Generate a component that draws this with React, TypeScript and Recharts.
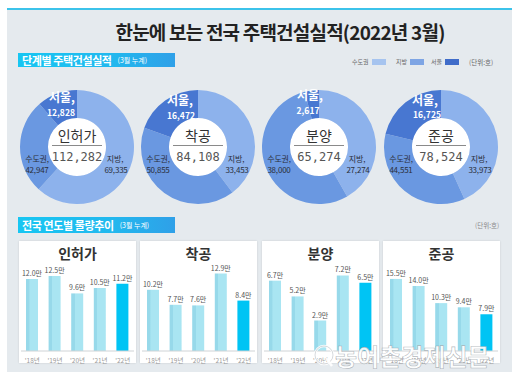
import React from "react";
import { PieChart, Pie, Cell, BarChart, Bar, XAxis, YAxis, LabelList } from "recharts";

const STAGES = ["인허가", "착공", "분양", "준공"];
const TOTALS = [112282, 84108, 65274, 78524];
const METRO = [42947, 50855, 38000, 44551];
const LOCAL = [69335, 33453, 27274, 33973];
const SEOUL = [12828, 16472, 2617, 16725];

const YEARS = ["'18년", "'19년", "'20년", "'21년", "'22년"];
const PERMIT = [12.0, 12.5, 9.6, 10.5, 11.2];
const START = [10.2, 7.7, 7.6, 12.9, 8.4];
const SALE = [6.7, 5.2, 2.9, 7.2, 6.5];
const DONE = [15.5, 14.0, 10.3, 9.4, 7.9];
const TRENDS = [PERMIT, START, SALE, DONE];

const LEGEND_NAMES = ["수도권", "지방", "서울"];
const LEGEND_COLORS = ["#a6c4ef", "#7ea5e4", "#3f6cc9"];

const FONT = "'Noto Sans CJK KR', 'Noto Sans', sans-serif";
const RING = ["#8db2ec", "#6a98e1", "#4877d1"];
const PIE_X = [77, 198, 319, 441];
const PIE_Y = 147;
const SEOUL_POS = [
  [-15, -50, -16, -35],
  [-18, -47, -17, -32],
  [-9, -52, -11, -37],
  [-16, -47, -14, -33],
];
const BOX_X = [19, 140, 262, 383];
const BAR_MAX = [15.5, 15.5, 8.86, 20];
const LEGEND_X = [352, 396, 431];

const fmt = (n: number) => n.toLocaleString("en-US");

function Txt({ x, y, children, style }: { x: number; y: number; children: React.ReactNode; style?: React.CSSProperties }) {
  return (
    <div
      style={{
        position: "absolute",
        left: x,
        top: y,
        transform: "translate(-50%, -50%)",
        whiteSpace: "nowrap",
        lineHeight: 1,
        ...style,
      }}
    >
      {children}
    </div>
  );
}

function Donut({ i }: { i: number }) {
  const cx = PIE_X[i];
  const ring = [
    { name: "지방", v: LOCAL[i] },
    { name: "수도권", v: METRO[i] - SEOUL[i] },
    { name: "서울", v: SEOUL[i] },
  ];
  const sp = SEOUL_POS[i];
  const small: React.CSSProperties = { fontSize: 8, color: "#2a2f3a", letterSpacing: -0.2 };
  return (
    <>
      <div style={{ position: "absolute", left: cx - 65, top: PIE_Y - 65 }}>
        <PieChart width={130} height={130}>
          <Pie data={[{ v: 1 }]} dataKey="v" cx="50%" cy="50%" outerRadius={29} fill="#ffffff" stroke="none" isAnimationActive={false} />
          <Pie
            data={ring}
            dataKey="v"
            cx="50%"
            cy="50%"
            innerRadius={29}
            outerRadius={57}
            startAngle={90}
            endAngle={-270}
            stroke="none"
            isAnimationActive={false}
          >
            {ring.map((d, k) => (
              <Cell key={d.name} fill={RING[k]} />
            ))}
          </Pie>
        </PieChart>
      </div>
      <Txt x={cx} y={PIE_Y - 12} style={{ fontSize: 14, color: "#333" }}>{STAGES[i]}</Txt>
      <div style={{ position: "absolute", left: cx - 25, top: PIE_Y - 2, width: 50, height: 1, background: "#8a8a8a" }} />
      <Txt x={cx} y={PIE_Y + 10} style={{ fontSize: 12, color: "#555", fontFamily: "'DejaVu Sans Mono', monospace" }}>
        {fmt(TOTALS[i])}
      </Txt>
      <Txt x={cx + sp[0]} y={PIE_Y + sp[1]} style={{ fontSize: 12, color: "#fff", fontWeight: 700 }}>서울,</Txt>
      <Txt x={cx + sp[2]} y={PIE_Y + sp[3]} style={{ fontSize: 8.5, color: "#fff", fontWeight: 700 }}>{fmt(SEOUL[i])}</Txt>
      <Txt x={cx - 40} y={PIE_Y + 12} style={small}>수도권,</Txt>
      <Txt x={cx - 40} y={PIE_Y + 23} style={small}>{fmt(METRO[i])}</Txt>
      <Txt x={cx + 38} y={PIE_Y + 12} style={small}>지방,</Txt>
      <Txt x={cx + 39} y={PIE_Y + 23} style={small}>{fmt(LOCAL[i])}</Txt>
    </>
  );
}

function TrendBox({ i }: { i: number }) {
  const data = YEARS.map((y, k) => ({ year: y, v: TRENDS[i][k] }));
  const gid = `barFill${i}`;
  return (
    <div
      style={{
        position: "absolute",
        left: BOX_X[i],
        top: 241,
        width: 117,
        height: 122,
        background: "#fff",
        boxShadow: "0 0 2px rgba(0,0,0,0.12)",
      }}
    >
      <Txt x={58.5} y={12} style={{ fontSize: 14, fontWeight: 700, color: "#333" }}>{STAGES[i]}</Txt>
      <div style={{ position: "absolute", left: 0, top: 0 }}>
        <BarChart width={117} height={128} data={data} margin={{ top: 17, right: 2, left: 2, bottom: 0 }}>
          <defs>
            <linearGradient id={gid} x1="0" y1="0" x2="1" y2="0">
              <stop offset="0%" stopColor="#97d9ea" />
              <stop offset="28%" stopColor="#97d9ea" />
              <stop offset="30%" stopColor="#a9e5f2" />
              <stop offset="100%" stopColor="#a9e5f2" />
            </linearGradient>
          </defs>
          <XAxis
            dataKey="year"
            interval={0}
            height={18}
            tickLine={false}
            axisLine={{ stroke: "#cfd3d6" }}
            tick={{ fontSize: 6.5, fill: "#9a9a9a", fontFamily: FONT }}
            tickMargin={1}
          />
          <YAxis hide domain={[0, BAR_MAX[i]]} />
          <Bar dataKey="v" barSize={12} isAnimationActive={false}>
            {data.map((d, k) => (
              <Cell key={d.year} fill={k === data.length - 1 ? "#00c4f4" : `url(#${gid})`} />
            ))}
            <LabelList
              dataKey="v"
              position="top"
              offset={3}
              formatter={(v: number) => `${v.toFixed(1)}만`}
              style={{ fontSize: 7, fill: "#555", fontFamily: FONT }}
            />
          </Bar>
        </BarChart>
      </div>
    </div>
  );
}

function SectionTag({ top, height, title }: { top: number; height: number; title: string }) {
  return (
    <div
      style={{
        position: "absolute",
        left: 18,
        top,
        width: 157,
        height,
        background: "linear-gradient(90deg, #17c6f2 0%, #22b8ee 60%, #2fa0e8 100%)",
        display: "flex",
        alignItems: "center",
        paddingLeft: 4,
        boxSizing: "border-box",
        color: "#fff",
        whiteSpace: "nowrap",
      }}
    >
      <span style={{ fontSize: 11, fontWeight: 700, letterSpacing: -0.4 }}>{title}</span>
      <span style={{ fontSize: 7, marginLeft: 6 }}>(3월 누계)</span>
    </div>
  );
}

export default function App() {
  return (
    <div
      style={{
        position: "absolute",
        left: 0,
        top: 0,
        width: 522,
        height: 386,
        background: "#fff",
        fontFamily: FONT,
        overflow: "hidden",
      }}
    >
      <div style={{ position: "absolute", left: 7, top: 9, width: 505, height: 363, background: "#e5eaee" }} />
      <div style={{ position: "absolute", left: 7, top: 8, width: 505, height: 2, background: "#3cc3ea" }} />
      <Txt x={280} y={31} style={{ fontSize: 19, fontWeight: 700, color: "#222", letterSpacing: -0.8 }}>
        한눈에 보는 전국 주택건설실적(2022년 3월)
      </Txt>

      <SectionTag top={53} height={14} title="단계별 주택건설실적" />
      {LEGEND_NAMES.map((name, k) => (
        <div
          key={name}
          style={{
            position: "absolute",
            left: LEGEND_X[k],
            top: 59,
            display: "flex",
            alignItems: "center",
            fontSize: 6,
            color: "#666",
            lineHeight: 1,
            whiteSpace: "nowrap",
          }}
        >
          <span>{name}</span>
          <span style={{ display: "inline-block", width: 14, height: 6, marginLeft: 3, background: LEGEND_COLORS[k] }} />
        </div>
      ))}
      <div style={{ position: "absolute", left: 469, top: 59, fontSize: 6.5, color: "#666", lineHeight: 1 }}>(단위:호)</div>

      {STAGES.map((_, i) => (
        <Donut key={i} i={i} />
      ))}

      <SectionTag top={217} height={16} title="전국 연도별 물량추이" />
      <div style={{ position: "absolute", left: 475, top: 222, fontSize: 6.5, color: "#888", lineHeight: 1 }}>(단위:호)</div>

      {STAGES.map((_, i) => (
        <TrendBox key={i} i={i} />
      ))}

      <svg style={{ position: "absolute", left: 312, top: 342 }} width={26} height={28}>
        <circle cx={12} cy={13} r={9} fill="none" stroke="rgba(255,255,255,0.9)" strokeWidth={2.5} />
        <circle cx={12} cy={13} r={9} fill="none" stroke="rgba(120,130,140,0.5)" strokeWidth={0.6} />
        <path d="M14 16 L20 24" stroke="rgba(255,255,255,0.9)" strokeWidth={2.5} />
      </svg>
      <div
        style={{
          position: "absolute",
          left: 335,
          top: 344,
          fontSize: 24,
          fontWeight: 700,
          color: "rgba(255,255,255,0.92)",
          WebkitTextStroke: "0.6px rgba(110,120,130,0.55)",
          letterSpacing: 0,
          lineHeight: 1,
          whiteSpace: "nowrap",
        }}
      >
        농어촌경제신문
      </div>
    </div>
  );
}
